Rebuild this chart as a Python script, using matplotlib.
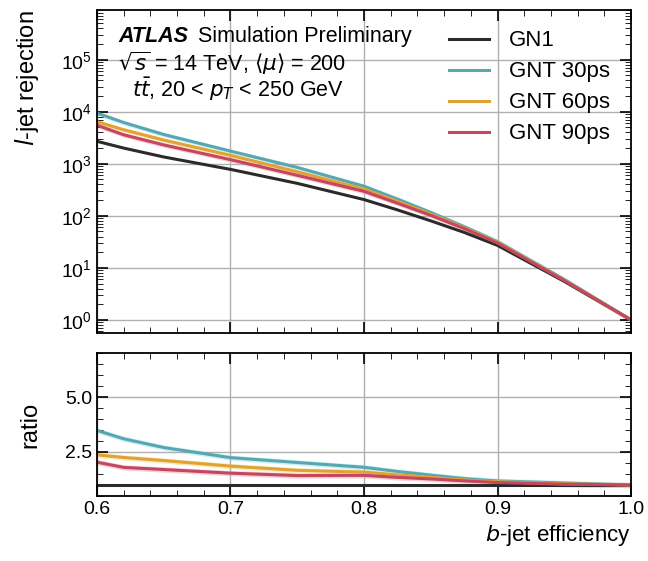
import numpy as np
import matplotlib.pyplot as plt

# b-jet efficiency points
beff = [0.60, 0.62, 0.65, 0.70, 0.75, 0.80, 0.825, 0.85, 0.875, 0.90, 0.95, 1.00]

# light-jet rejection per tagger
rej_gn1 = [2700, 2000, 1350, 780, 420, 205, 130, 80, 48, 27, 5.5, 1.0]
rej_30ps = [9400, 6200, 3650, 1750, 850, 370, 210, 116, 62, 32, 6.0, 1.0]
rej_60ps = [6400, 4500, 2850, 1450, 700, 325, 190, 108, 59, 31, 5.8, 1.0]
rej_90ps = [5500, 3600, 2300, 1200, 600, 295, 175, 102, 57, 30, 5.7, 1.0]

labels = ["GN1", "GNT 30ps", "GNT 60ps", "GNT 90ps"]
colors = ["#2b2b2b", "#5aa6b0", "#e0a234", "#c4475f"]
bands = ["#bbbbbb", "#bff0f5", "#fbe7a8", "#f8c4cc"]

plt.rcParams['font.family'] = ['Liberation Sans', 'DejaVu Sans']
plt.rcParams['mathtext.fontset'] = 'dejavusans'

fig = plt.figure(figsize=(6.48, 5.61), dpi=100)
ax1 = fig.add_axes([97/648, 1 - 333/561, 534/648, 323/561])
ax2 = fig.add_axes([97/648, 1 - 496/561, 534/648, 143/561], sharex=ax1)

x = np.array(beff)
base = np.array(rej_gn1)
for rej, lab, c, b in zip([rej_gn1, rej_30ps, rej_60ps, rej_90ps], labels, colors, bands):
    r = np.array(rej)
    ratio = r / base
    if lab != "GN1":
        ax1.fill_between(x, r * 0.9, r * 1.1, color=b, lw=0, alpha=0.8)
        ax2.fill_between(x, ratio - 0.12, ratio + 0.12, color=b, lw=0, alpha=0.8)
    ax1.plot(x, r, color=c, lw=2.2, label=lab)
    ax2.plot(x, ratio, color=c, lw=2.2)

ax1.set_yscale('log')
ax1.set_ylim(0.56, 9e5)
ax1.set_xlim(0.6, 1.0)
ax2.set_ylim(0.5, 7.0)
ax2.set_yticks([2.5, 5.0])
ax2.set_xticks([0.6, 0.7, 0.8, 0.9, 1.0])

for ax in (ax1, ax2):
    ax.grid(True, color='#b0b0b0', lw=1)
    ax.minorticks_on()
    ax.tick_params(which='both', direction='in', top=True, right=True, labelsize=14)
    ax.tick_params(which='major', length=8, width=1.2)
    ax.tick_params(which='minor', length=4)
    for s in ax.spines.values():
        s.set_linewidth(1.3)
ax1.tick_params(labelbottom=False)
ax1.set_yticks([1, 10, 100, 1e3, 1e4, 1e5])

ax1.set_ylabel(r'$l$-jet rejection', fontsize=17, loc='top')
ax2.set_ylabel('ratio', fontsize=17)
ax2.set_xlabel(r'$b$-jet efficiency', fontsize=16, loc='right')
ax1.yaxis.set_label_coords(-0.105, 1.0)
ax2.yaxis.set_label_coords(-0.105, 0.5)

fs = 15.5
ax1.text(0.04, 0.9, 'ATLAS', transform=ax1.transAxes, fontsize=fs,
         fontweight='bold', style='italic')
ax1.text(0.19, 0.9, 'Simulation Preliminary', transform=ax1.transAxes, fontsize=fs)
ax1.text(0.04, 0.812, r'$\sqrt{s}$ = 14 TeV, $\langle\mu\rangle$ = 200',
         transform=ax1.transAxes, fontsize=fs)
ax1.text(0.065, 0.73, r'$t\bar{t}$, 20 < $p_T$ < 250 GeV',
         transform=ax1.transAxes, fontsize=fs)

ax1.legend(loc='upper left', bbox_to_anchor=(0.63, 0.985), frameon=False,
           fontsize=16, handlelength=1.8, handletextpad=0.9,
           labelspacing=0.45, borderaxespad=0.3)

fig.savefig('out.png', dpi=100)
